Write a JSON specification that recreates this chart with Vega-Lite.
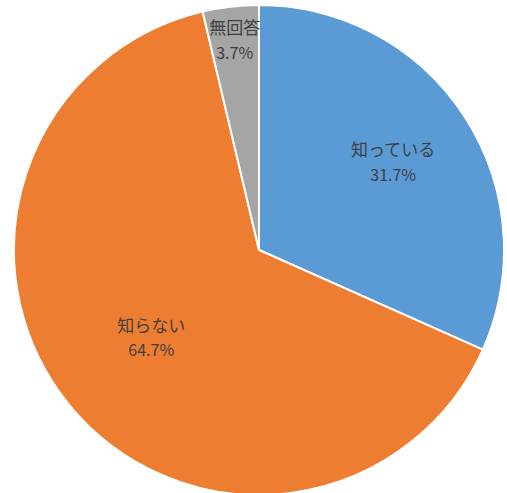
{
  "$schema": "https://vega.github.io/schema/vega-lite/v6.json",
  "width": 507,
  "height": 493,
  "autosize": {"type": "fit", "contains": "padding"},
  "padding": {"left": 11, "top": 7, "right": 0, "bottom": 0},
  "background": "white",
  "data": {
    "values": [
      {"category": "知っている", "value": 31.7, "pct": "31.7%", "order": 1},
      {"category": "知らない", "value": 64.7, "pct": "64.7%", "order": 2},
      {"category": "無回答", "value": 3.7, "pct": "3.7%", "order": 3}
    ]
  },
  "encoding": {
    "theta": {"field": "value", "type": "quantitative", "stack": true},
    "order": {"field": "order", "type": "quantitative"}
  },
  "layer": [
    {
      "mark": {"type": "arc", "outerRadius": 245, "stroke": "white", "strokeWidth": 2},
      "encoding": {
        "color": {
          "field": "category",
          "type": "nominal",
          "scale": {"domain": ["知っている", "知らない", "無回答"], "range": ["#5B9BD5", "#ED7D31", "#A5A5A5"]},
          "legend": null
        }
      }
    },
    {
      "mark": {"type": "text", "radius": 160, "dy": -12, "fontSize": 17, "font": "Noto Sans CJK JP", "fill": "#404040"},
      "encoding": {"text": {"condition": {"test": "datum.category === '知っている'", "field": "category"}, "value": ""}}
    },
    {
      "mark": {"type": "text", "radius": 160, "dy": 13, "fontSize": 16, "font": "Noto Sans CJK JP", "fill": "#404040"},
      "encoding": {"text": {"condition": {"test": "datum.category === '知っている'", "field": "pct"}, "value": ""}}
    },
    {
      "mark": {"type": "text", "radius": 140, "dy": -12, "fontSize": 17, "font": "Noto Sans CJK JP", "fill": "#404040"},
      "encoding": {"text": {"condition": {"test": "datum.category === '知らない'", "field": "category"}, "value": ""}}
    },
    {
      "mark": {"type": "text", "radius": 140, "dy": 12, "fontSize": 16, "font": "Noto Sans CJK JP", "fill": "#404040"},
      "encoding": {"text": {"condition": {"test": "datum.category === '知らない'", "field": "pct"}, "value": ""}}
    },
    {
      "mark": {"type": "text", "radius": 210, "dy": -12, "fontSize": 17, "font": "Noto Sans CJK JP", "fill": "#404040"},
      "encoding": {"text": {"condition": {"test": "datum.category === '無回答'", "field": "category"}, "value": ""}}
    },
    {
      "mark": {"type": "text", "radius": 210, "dy": 13, "fontSize": 16, "font": "Noto Sans CJK JP", "fill": "#404040"},
      "encoding": {"text": {"condition": {"test": "datum.category === '無回答'", "field": "pct"}, "value": ""}}
    }
  ]
}
